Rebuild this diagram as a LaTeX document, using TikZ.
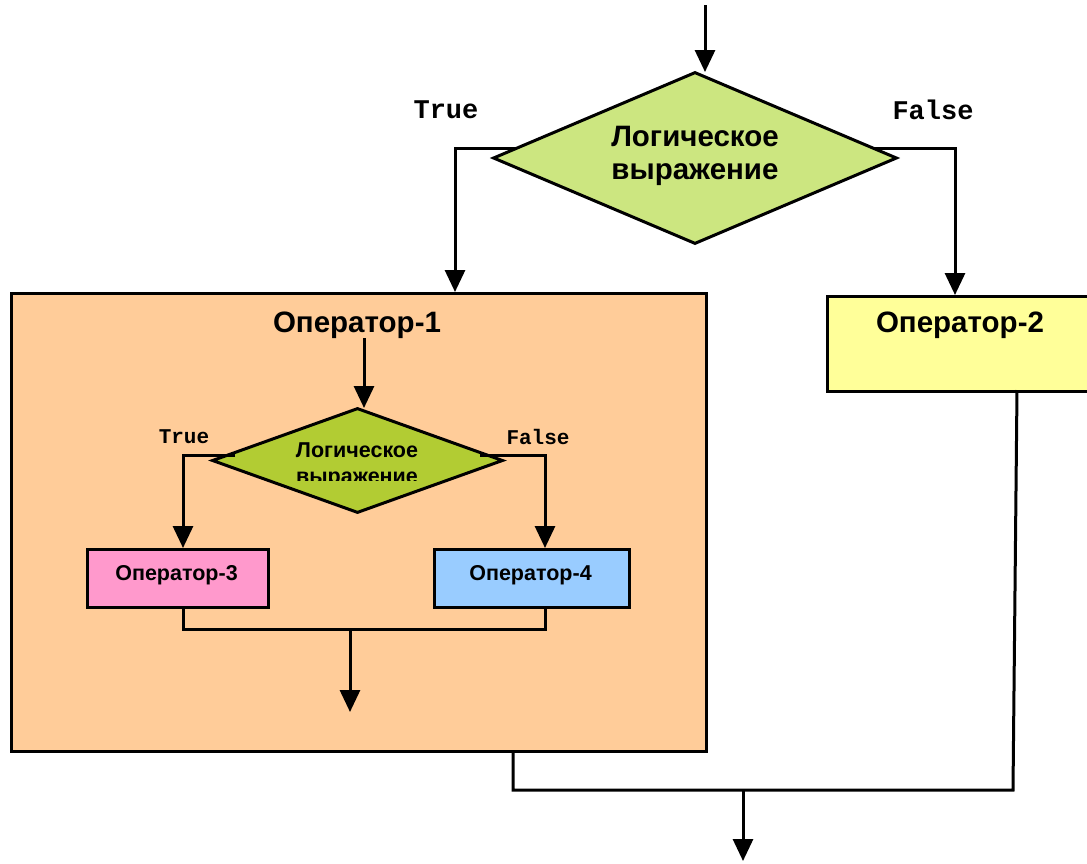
\documentclass[tikz,border=0pt]{standalone}
\usepackage{fontspec}
\setmainfont{Liberation Sans}
\newfontfamily\monof{Liberation Mono}
\usetikzlibrary{shapes.geometric,arrows.meta}
\definecolor{peach}{HTML}{FFCC99}
\definecolor{lgreen}{HTML}{CCE680}
\definecolor{olive}{HTML}{B2CC33}
\definecolor{pinkop}{HTML}{FF99CC}
\definecolor{blueop}{HTML}{99CCFF}
\definecolor{yellowop}{HTML}{FFFF99}
\tikzset{
  ln/.style={line width=3pt, draw=black},
  arr/.style={ln, -{Triangle[length=22pt,width=20pt]}},
  boxst/.style={draw=black, line width=3pt, rectangle, inner sep=0pt, anchor=north west},
  dia/.style={draw=black, line width=3pt, diamond, inner sep=0pt},
  lbl/.style={font=\monof\bfseries\fontsize{27}{29}\selectfont, inner sep=0pt},
  slbl/.style={font=\monof\bfseries\fontsize{21}{23}\selectfont, inner sep=0pt},
  big/.style={font=\bfseries\fontsize{29.5}{33}\selectfont, inner sep=0pt, align=center},
  small/.style={font=\bfseries\fontsize{21.5}{26}\selectfont, inner sep=0pt, align=center},
}
\begin{document}
\begin{tikzpicture}[x=1pt,y=-1pt]
\useasboundingbox (0,0) rectangle (1087,863);
% outer boxes
\node[boxst, fill=peach, minimum width=695pt, minimum height=458pt] (op1) at (10,292) {};
\node[boxst, fill=yellowop, minimum width=300pt, minimum height=95pt] (op2) at (826,295) {};
% top diamond
\node[dia, fill=lgreen, minimum width=404pt, minimum height=172pt] (d1) at (695,158) {};
\node[big] (d1t) at (695,156) {Логическое\\выражение};
\coordinate (start) at (705,5);
\draw[arr] (start) -- (705,72);
\coordinate (tL) at (455,148);
\coordinate (fR) at (955,148);
\draw[arr] (d1.west |- tL) ++(24,0) -- (tL) -- (tL |- op1.north);
\draw[arr] (d1.east |- fR) ++(-24,0) -- (fR) -- (fR |- op2.north);
\node[lbl] (tr1) at (446,110) {True};
\node[lbl] (fa1) at (933,110) {False};
% operator 1 content
\node[big] (op1t) at (357,325) {Оператор-1};
\node[big] (op2t) at (960,325) {Оператор-2};
\node[dia, fill=olive, minimum width=291pt, minimum height=105pt] (d2) at (357.5,460.5) {};
\coordinate (o1a) at (364,338);
\draw[arr] (o1a) -- (364,408);
\begin{scope}
\clip (200,400) rectangle (520,480.5);
\node[small] (d2t) at (357,465) {Логическое\\выражение};
\end{scope}
\node[slbl] (tr2) at (184,437) {True};
\node[slbl] (fa2) at (538,437) {False};
\node[boxst, fill=pinkop, minimum width=181pt, minimum height=58pt] (op3) at (86,548) {};
\node[boxst, fill=blueop, minimum width=195pt, minimum height=58pt] (op4) at (433,548) {};
\node[small] (op3t) at (176.5,575) {Оператор-3};
\node[small] (op4t) at (530.5,575) {Оператор-4};
\coordinate (tL2) at (183,455);
\coordinate (fR2) at (545,455);
\draw[arr] (235,455) -- (tL2) -- (tL2 |- op3.north);
\draw[arr] (480,455) -- (fR2) -- (fR2 |- op4.north);
\coordinate (m3) at (183,629);
\coordinate (m4) at (545,629);
\draw[ln] (m3 |- op3.south) -- (m3) -- (m4) -- (m4 |- op4.south);
\coordinate (mc) at (350,629);
\coordinate (me) at (350,712);
\draw[arr] (mc) -- (me);
% bottom merge
\coordinate (b1) at (513,790);
\coordinate (b2) at (1013,790);
\draw[ln] (513,750) -- (b1) -- (b2) -- (1017,390);
\coordinate (bc) at (743,790);
\coordinate (be) at (743,861);
\draw[arr] (bc) -- (be);
\end{tikzpicture}
\end{document}
